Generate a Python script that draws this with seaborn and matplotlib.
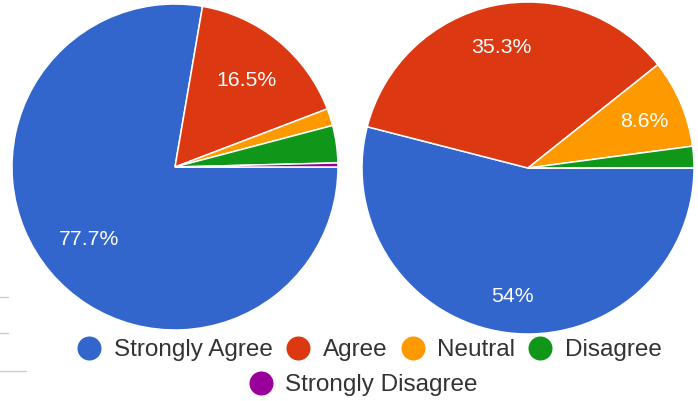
import matplotlib
matplotlib.use("Agg")
import matplotlib.pyplot as plt
from matplotlib.lines import Line2D
import seaborn as sns

# Response categories and the share (%) of answers in each, for two survey questions
categories = ["Strongly Agree", "Agree", "Neutral", "Disagree", "Strongly Disagree"]
question_a = [77.7, 16.5, 1.7, 3.7, 0.4]
question_b = [54.0, 35.3, 8.6, 2.1, 0.0]

sns.set_theme(style="white")
plt.rcParams["font.family"] = ["Liberation Sans", "DejaVu Sans"]

palette = sns.color_palette(["#3366CC", "#DC3912", "#FF9900", "#109618", "#990099"])

W, H = 698, 401
fig = plt.figure(figsize=(W / 100, H / 100), dpi=100)
fig.patch.set_facecolor("white")


def pie_axes(cx, cy, r):
    """Axes whose unit circle sits at pixel centre (cx, cy) with radius r."""
    return fig.add_axes([(cx - r) / W, (H - cy - r) / H, 2 * r / W, 2 * r / H])


def pct_label(pct):
    return f"{round(pct, 1):g}%" if pct >= 5 else ""


def draw_pie(ax, values, label_dist, label_drop=0.0):
    wedges, _, autotexts = ax.pie(
        values,
        colors=palette,
        startangle=0,
        counterclock=False,
        autopct=pct_label,
        pctdistance=label_dist,
        wedgeprops=dict(edgecolor="white", linewidth=1.1),
        textprops=dict(color="white", fontsize=15.3),
    )
    for w in wedges:
        w.set_clip_on(False)
    for t in autotexts:
        x, y = t.get_position()
        t.set_position((x, y - label_drop))
    ax.set_xlim(-1, 1)
    ax.set_ylim(-1, 1)
    ax.set_aspect("equal")
    ax.axis("off")


draw_pie(pie_axes(175, 167, 163), question_a, 0.69)
draw_pie(pie_axes(528, 168, 166), question_b, 0.76, label_drop=0.02)

# Legend: first four categories on one row, the last one centred below
handles = [
    Line2D([], [], linestyle="none", marker="o", markersize=17.3,
           markerfacecolor=c, markeredgewidth=0)
    for c in palette
]
common = dict(
    frameon=False,
    fontsize=17.5,
    labelcolor="#333333",
    handlelength=1.0,
    handletextpad=0.5,
    columnspacing=0.55,
    borderpad=0,
    borderaxespad=0,
)
fig.legend(handles[:4], categories[:4], ncol=4, loc="center",
           bbox_to_anchor=(369.5 / W, 1 - 350 / H), **common)
fig.legend(handles[4:], categories[4:], ncol=1, loc="center",
           bbox_to_anchor=(363 / W, 1 - 385 / H), **common)

# Faint rule lines along the left margin
for y, x1 in [(297, 8), (333, 8), (371, 26)]:
    fig.add_artist(Line2D([0, x1 / W], [1 - y / H, 1 - y / H],
                          transform=fig.transFigure, color="#cccccc", linewidth=1))

fig.savefig("out.png", dpi=100, facecolor="white")
